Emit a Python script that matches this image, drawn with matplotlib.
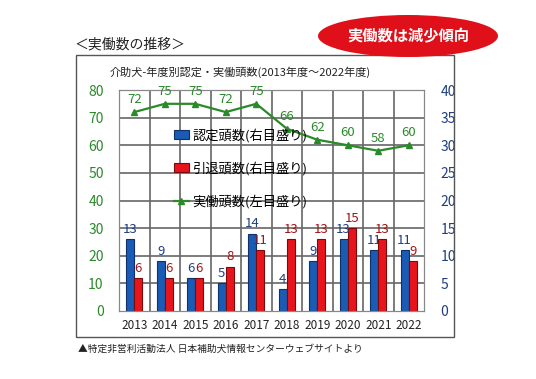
import matplotlib
matplotlib.use("Agg")
import matplotlib.pyplot as plt
from matplotlib.patches import Ellipse, Rectangle
import numpy as np

plt.rcParams['font.family'] = ['Noto Sans CJK JP', 'DejaVu Sans']

# data
years = ["2013", "2014", "2015", "2016", "2017", "2018", "2019", "2020", "2021", "2022"]
certified = [13, 9, 6, 5, 14, 4, 9, 13, 11, 11]     # 認定頭数 (right axis)
retired = [6, 6, 6, 8, 11, 13, 13, 15, 13, 9]       # 引退頭数 (right axis)
working = [72, 75, 75, 72, 75, 66, 62, 60, 58, 60]  # 実働頭数 (left axis)

BLUE = "#1a5bb5"
RED = "#e8141c"
GREEN = "#2a8a2a"
GRID = "#666666"
W, H = 536, 379

fig = plt.figure(figsize=(W / 100, H / 100), dpi=100)

# outer frame of the chart
fig.patches.append(Rectangle((76 / W, 1 - 337 / H), (454 - 76) / W, (337 - 55) / H,
                             transform=fig.transFigure, fill=False,
                             edgecolor="#555555", linewidth=1.0))

ax = fig.add_axes([119 / W, 1 - 311 / H, (424 - 119) / W, (311 - 90) / H])
ax2 = ax.twinx()

x = np.arange(len(years))
bw = 0.27
b1 = ax2.bar(x - bw / 2, certified, bw, color=BLUE, edgecolor="#10306a", linewidth=0.8,
             label="認定頭数(右目盛り)", zorder=2)
b2 = ax2.bar(x + bw / 2, retired, bw, color=RED, edgecolor="#7a0a0a", linewidth=0.8,
             label="引退頭数(右目盛り)", zorder=2)
ax2.set_ylim(0, 40)
ax2.set_yticks(range(0, 41, 5))
ax2.set_xlim(-0.5, len(years) - 0.5)

# grid: horizontal on the right scale, vertical at category boundaries
ax2.hlines(range(5, 41, 5), -0.5, len(years) - 0.5, colors=GRID, linewidth=1.2, zorder=1)
ax2.vlines(np.arange(0.5, len(years) - 0.5, 1), 0, 40, colors=GRID, linewidth=1.2, zorder=1)

for xi, v in zip(x, certified):
    ax2.text(xi - bw / 2, v + 0.6, str(v), ha="center", va="bottom",
             color="#1f3f80", fontsize=9.5, zorder=3)
for xi, v in zip(x, retired):
    ax2.text(xi + bw / 2, v + 0.6, str(v), ha="center", va="bottom",
             color="#a01414", fontsize=9.5, zorder=3)

# line on the left axis, drawn on top of the bars
ax.set_zorder(ax2.get_zorder() + 1)
ax.patch.set_visible(False)
ln, = ax.plot(x, working, color=GREEN, linewidth=1.6, marker="^", markersize=4,
              label="実働頭数(左目盛り)", zorder=3)
for xi, v in zip(x, working):
    ax.text(xi, v + 2.2, str(v), ha="center", va="bottom", color=GREEN, fontsize=9.5)
ax.set_ylim(0, 80)
ax.set_yticks(range(0, 81, 10))
ax.set_xlim(-0.5, len(years) - 0.5)
ax.set_xticks(x)
ax.set_xticklabels(years)

for a in (ax, ax2):
    for s in a.spines.values():
        s.set_color("#888888")
        s.set_linewidth(0.8)
    a.tick_params(length=0, which="both")
ax.tick_params(axis="y", colors=GREEN, labelsize=10, pad=11)
ax.tick_params(axis="x", colors="#222222", labelsize=8.5, pad=6)
ax2.tick_params(axis="y", colors="#1f3f80", labelsize=10, pad=12)

ax.legend([b1, b2, ln], [b1.get_label(), b2.get_label(), ln.get_label()],
          loc="upper left", bbox_to_anchor=(0.14, 0.88), frameon=False,
          fontsize=9.5, labelspacing=1.45, handlelength=1.2, handleheight=0.6,
          handletextpad=0.2)

fig.text(240 / W, 1 - 72 / H, "介助犬-年度別認定・実働頭数(2013年度～2022年度)",
         ha="center", va="center", fontsize=8, color="#222222")
fig.text(75 / W, 1 - 44 / H, "＜実働数の推移＞", ha="left", va="center",
         fontsize=10, color="#222222")
fig.text(78 / W, 1 - 349 / H, "▲特定非営利活動法人 日本補助犬情報センターウェブサイトより",
         ha="left", va="center", fontsize=7, color="#222222")

fig.patches.append(Ellipse((408 / W, 1 - 36 / H), 180 / W, 42 / H,
                           transform=fig.transFigure, facecolor="#e0101a",
                           edgecolor="none"))
fig.text(408 / W, 1 - 36 / H, "実働数は減少傾向", ha="center", va="center",
         fontsize=11, color="white", fontweight="bold")

fig.savefig("out.png", dpi=100)
